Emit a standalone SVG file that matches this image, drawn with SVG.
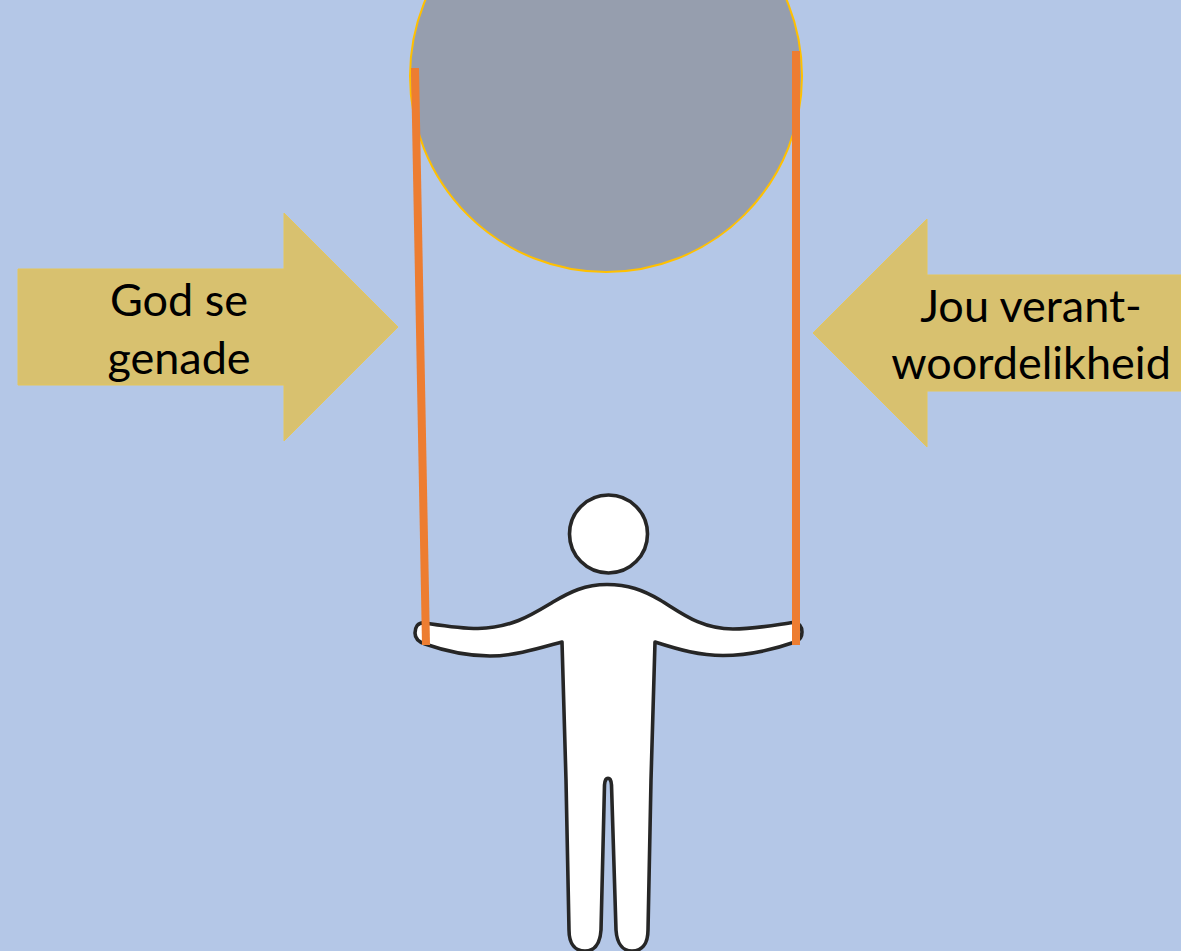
<svg xmlns="http://www.w3.org/2000/svg" width="1181" height="951" viewBox="0 0 1181 951">
<style>
.arrow{fill:#d8c16f;stroke:#e5c65a;stroke-width:1}
.rope{stroke:#ed7d31;stroke-width:8;fill:none}
.fig{fill:#fff;stroke:#262626;stroke-width:3.6;stroke-linejoin:round}
text{font-family:Lato,"Liberation Sans",sans-serif;font-size:45px;fill:#000;text-anchor:middle}
</style>
<rect width="1181" height="951" fill="#b4c7e7"/>
<g id="weight"><circle cx="606" cy="76" r="196" fill="#969eae" stroke="#ffc000" stroke-width="2"/></g>
<g id="person">
<circle class="fig" cx="608.500" cy="534" r="39"/>
<path class="fig" d="M607 584.500C585 584.500 570 592 553 602C533 614 512 628 478 628.500C460 628.500 445 626 425 623C417 622 415 628 415 633C415 638 419 642 425 644C445 651 465 656 490 656C515 656 540 648 562 642L566 780L569 930C569 945 576 951 585 951C594 951 600 945 601 930L604.500 785C605 776 611 776 611.500 785L616 930C617 945 624 951 632 951C641 951 648 945 648 930L651 780L655 642C680 650 700 655.500 723 655.500C750 655.500 775 649 795 642C801 640 802 636 802 632C802 627 799 622 793 622.500C775 625 755 629 733 629C700 629 680 612 660 600C643 590 628 584.500 607 584.500Z"/>
</g>
<g id="connectors">
<line class="rope" x1="415" y1="68" x2="426" y2="645"/>
<line class="rope" x1="796" y1="51" x2="796" y2="645"/>
</g>
<g id="god-se-genade">
<polygon class="arrow" points="18,269 284,269 284,213 398,327 284,441 284,385 18,385"/>
<text x="179" y="316">God se</text>
<text x="179" y="374">genade</text>
</g>
<g id="jou-verantwoordelikheid">
<polygon class="arrow" points="1181,275 927,275 927,219 813,333 927,447 927,391 1181,391"/>
<text x="1031" y="322">Jou verant-</text>
<text x="1031" y="379">woordelikheid</text>
</g>
</svg>
